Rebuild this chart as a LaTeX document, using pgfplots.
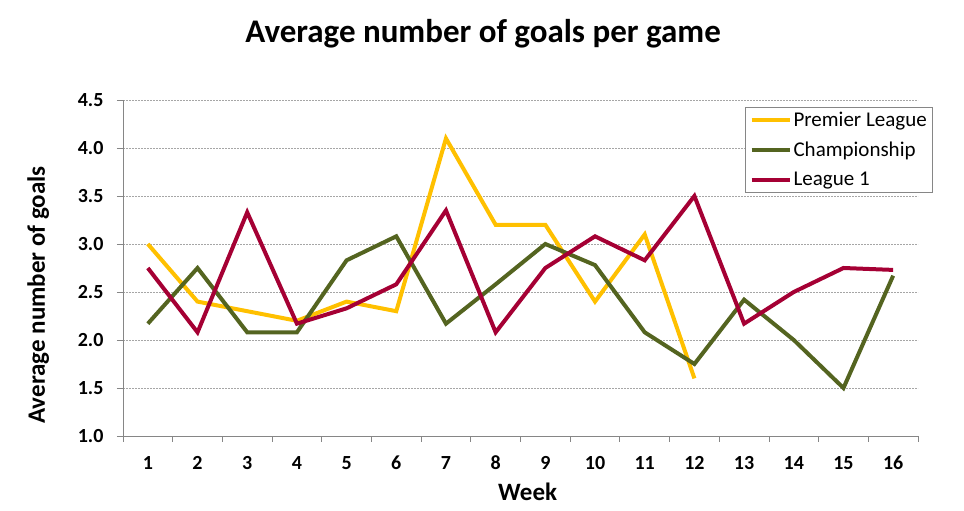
\documentclass[border=0pt]{standalone}
\usepackage{fontspec}
\setmainfont{Carlito}
\usepackage{pgfplots}
\pgfplotsset{compat=1.18}

\definecolor{premier}{RGB}{255,192,0}
\definecolor{champ}{RGB}{84,100,32}
\definecolor{league}{RGB}{165,0,52}
\definecolor{axisgray}{RGB}{134,134,134}

\begin{document}
\begin{tikzpicture}
% page: 964 x 511, axis box from (123,100) to (918,436) in image pixels
\path[use as bounding box] (-123pt,-75pt) rectangle (841pt,436pt);
\begin{axis}[
    scale only axis,
    width=795pt, height=336pt,
    xmin=0.5, xmax=16.5,
    ymin=1, ymax=4.5,
    xtick={1,...,16},
    minor xtick={0.5,1.5,...,16.5},
    ytick={1,1.5,...,4.5},
    axis x line*=bottom,
    axis y line*=left,
    axis line style={axisgray, line width=0.8pt, -},
    tick align=outside,
    major tick length=6pt,
    x tick style={draw=none},
    minor x tick style={draw=axisgray, line width=0.8pt},
    minor tick length=6pt,
    y tick style={draw=axisgray, line width=0.8pt},
    ymajorgrids,
    grid style={gray!70, line width=0.5pt, dash pattern=on 2pt off 1pt},
    /pgf/number format/assume math mode=true,
    yticklabel style={/pgf/number format/fixed, /pgf/number format/fixed zerofill,
        /pgf/number format/precision=1},
    ticklabel style={font=\bfseries\fontsize{20}{20}\selectfont},
    xticklabel style={anchor=base, yshift=-28pt},
    yticklabel style={anchor=east, xshift=-10pt},
    title={Average number of goals per game},
    title style={font=\bfseries\fontsize{33}{33}\selectfont, at={(rel axis cs:0.453,1)},
        anchor=base, yshift=51pt},
    xlabel={Week},
    xlabel style={font=\bfseries\fontsize{25}{25}\selectfont, at={(rel axis cs:0.509,0)},
        anchor=base, yshift=-65pt},
    ylabel={Average number of goals},
    ylabel style={font=\bfseries\fontsize{25}{25}\selectfont,
        at={([xshift=-78pt]rel axis cs:0,0.42)}, anchor=base},
    legend style={at={(rel axis cs:1.019,0.979)}, anchor=north east,
        draw=axisgray, line width=0.8pt, font=\fontsize{21}{21}\selectfont,
        inner xsep=4pt, inner ysep=3pt, row sep=10pt},
    legend cell align=left,
    legend image code/.code={\draw[#1, line width=4pt] (0pt,0pt) -- (38pt,0pt);},
    every axis plot/.append style={line width=4pt, line join=miter},
    clip=false,
]
\addplot[premier] coordinates {
    (1,3.0) (2,2.4) (3,2.3) (4,2.2) (5,2.4) (6,2.3) (7,4.1) (8,3.2)
    (9,3.2) (10,2.4) (11,3.1) (12,1.6)
};
\addlegendentry{Premier League}
\addplot[champ] coordinates {
    (1,2.17) (2,2.75) (3,2.08) (4,2.08) (5,2.83) (6,3.08) (7,2.17) (8,2.58)
    (9,3.0) (10,2.78) (11,2.08) (12,1.75) (13,2.42) (14,2.0) (15,1.5) (16,2.67)
};
\addlegendentry{Championship}
\addplot[league] coordinates {
    (1,2.75) (2,2.08) (3,3.33) (4,2.17) (5,2.33) (6,2.58) (7,3.35) (8,2.08)
    (9,2.75) (10,3.08) (11,2.83) (12,3.5) (13,2.17) (14,2.5) (15,2.75) (16,2.73)
};
\addlegendentry{League 1}
\end{axis}
\end{tikzpicture}
\end{document}
